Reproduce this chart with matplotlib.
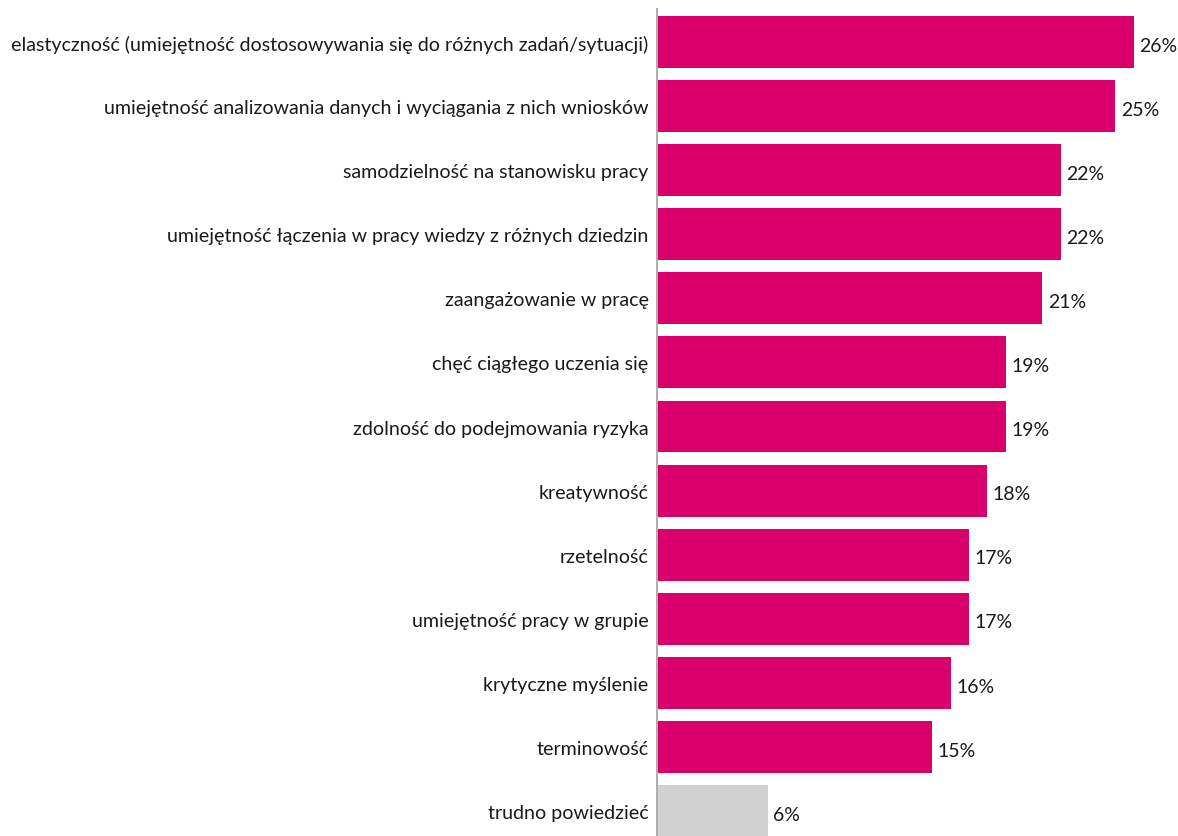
import matplotlib
matplotlib.use('Agg')
import matplotlib.pyplot as plt

# kompetencje i odsetek wskazań
labels = [
    'elastyczność (umiejętność dostosowywania się do różnych zadań/sytuacji)',
    'umiejętność analizowania danych i wyciągania z nich wniosków',
    'samodzielność na stanowisku pracy',
    'umiejętność łączenia w pracy wiedzy z różnych dziedzin',
    'zaangażowanie w pracę',
    'chęć ciągłego uczenia się',
    'zdolność do podejmowania ryzyka',
    'kreatywność',
    'rzetelność',
    'umiejętność pracy w grupie',
    'krytyczne myślenie',
    'terminowość',
    'trudno powiedzieć',
]
values = [26, 25, 22, 22, 21, 19, 19, 18, 17, 17, 16, 15, 6]
colors = ['#d9006c'] * 12 + ['#d0d0d0']

plt.rcParams['font.family'] = ['Lato', 'DejaVu Sans']

fig = plt.figure(figsize=(11.78, 8.37), dpi=100)
ax = fig.add_axes([657 / 1178, 0, 1 - 657 / 1178, (837 - 10) / 837])

pos = list(range(len(values)))
ax.barh(pos, values, height=0.81, color=colors, left=0.05)
ax.set_xlim(0, 521 / 18.3)
ax.set_ylim(12.39, -0.515)

for i, v in enumerate(values):
    ax.text(v + 0.35, i + 0.05, f'{v}%', va='center', ha='left', fontsize=14, color='#1a1a1a')

ax.set_yticks(pos)
ax.set_yticklabels(labels, fontsize=14.1, color='#1a1a1a')
ax.tick_params(axis='y', length=0, pad=6)
ax.set_xticks([])
for s in ['top', 'right', 'bottom']:
    ax.spines[s].set_visible(False)
ax.spines['left'].set_color('#a6a6a6')
ax.spines['left'].set_linewidth(1.3)

fig.savefig('out.png', dpi=100)
